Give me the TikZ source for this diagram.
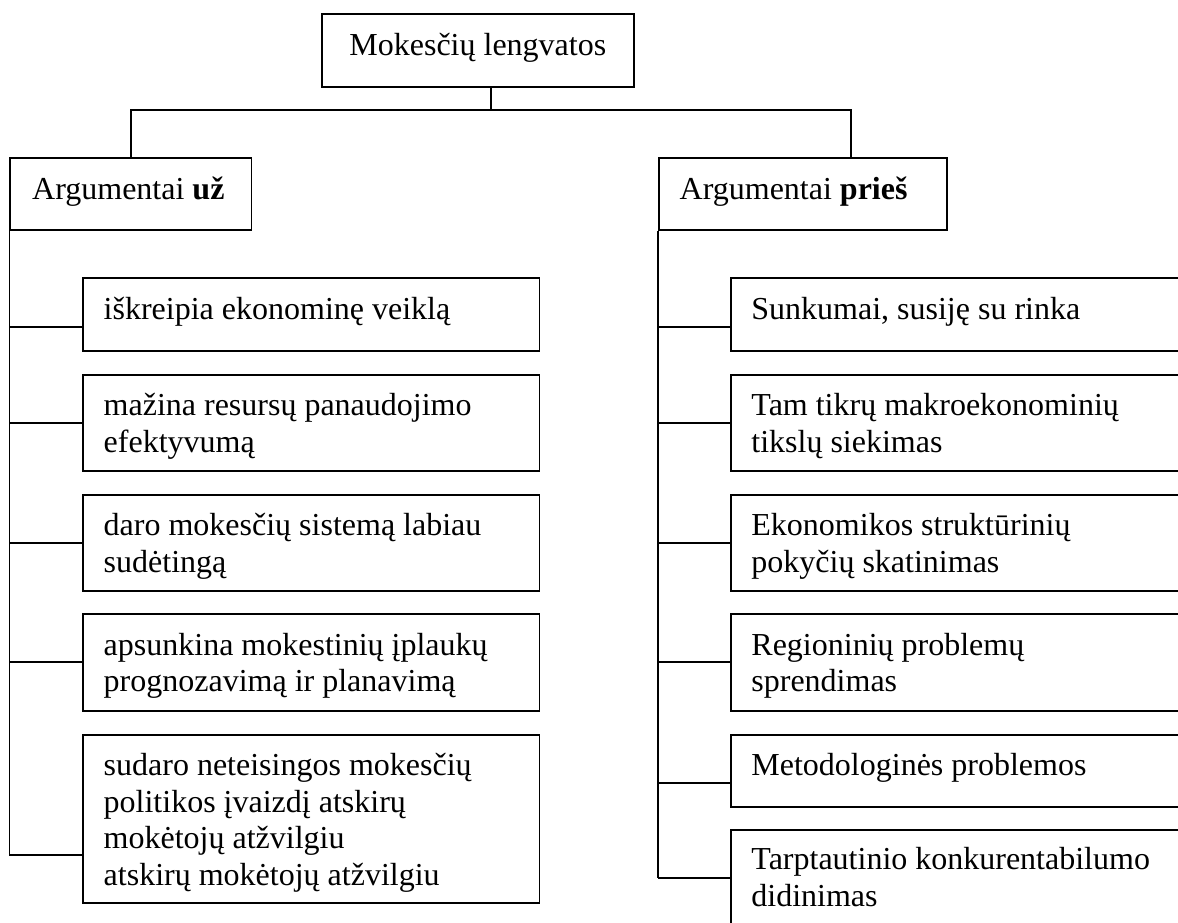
\documentclass[tikz,border=0pt]{standalone}
\usepackage{fontspec}
\setmainfont{Liberation Serif}
\usetikzlibrary{fit}

% several lines, aligned on the baseline of the first one
\newcommand\stacklines[1]{\begin{tabular}[t]{@{}l@{}}#1\end{tabular}}

\begin{document}
\begin{tikzpicture}[x=0.5pt,y=-0.5pt,
  frame/.style={draw=black, line width=0.9pt, inner sep=0pt, rectangle},
  txt/.style={anchor=base west, inner sep=0pt, font=\fontsize{16}{18.35}\selectfont},
  link/.style={draw=black, line width=0.9pt}]
\useasboundingbox (0,0) rectangle (1178,922);
\fill[white] (0,0) rectangle (1178,922);
\clip (0,0) rectangle (1178,922);

% root
\node[frame, fit={(322.2,14) (634,86.7)}] (main) {};
\node[txt] (tmain) at (349,55.7) {Mokesčių lengvatos};

% the two headings
\node[frame, fit={(10.3,158.3) (251.4,230)}] (hL) {};
\node[txt] (thL) at (31.8,199.5) {Argumentai \textbf{už}};
\node[frame, fit={(659,158.3) (947.2,230)}] (hR) {};
\node[txt] (thR) at (679.3,199.5) {Argumentai \textbf{prieš}};

% left column
\node[frame, fit={(82.7,278.3) (539.5,350.7)}] (l1) {};
\node[txt] (tl1) at (103.3,319.3) {iškreipia ekonominę veiklą};
\node[frame, fit={(82.7,375) (539.5,470.7)}] (l2) {};
\node[txt] (tl2) at (103.3,415.5) {\stacklines{mažina resursų panaudojimo\\efektyvumą}};
\node[frame, fit={(82.7,495) (539.5,590.7)}] (l3) {};
\node[txt] (tl3) at (103.3,535.5) {\stacklines{daro mokesčių sistemą labiau\\sudėtingą}};
\node[frame, fit={(82.7,614.3) (539.5,710.7)}] (l4) {};
\node[txt] (tl4) at (103.3,655) {\stacklines{apsunkina mokestinių įplaukų\\prognozavimą ir planavimą}};
\node[frame, fit={(82.7,735) (539.5,902.7)}] (l5) {};
\node[txt] (tl5) at (103.3,775.5) {\stacklines{sudaro neteisingos mokesčių\\politikos įvaizdį atskirų\\mokėtojų atžvilgiu\\atskirų mokėtojų atžvilgiu}};

% right column (boxes run past the page edge)
\node[frame, fit={(730.9,278.3) (1200,350.7)}] (r1) {};
\node[txt] (tr1) at (751,319.3) {Sunkumai, susiję su rinka};
\node[frame, fit={(730.9,375) (1200,470.7)}] (r2) {};
\node[txt] (tr2) at (751,415.5) {\stacklines{Tam tikrų makroekonominių\\tikslų siekimas}};
\node[frame, fit={(730.9,495) (1200,590.7)}] (r3) {};
\node[txt] (tr3) at (751,535.5) {\stacklines{Ekonomikos struktūrinių\\pokyčių skatinimas}};
\node[frame, fit={(730.9,614.3) (1200,710.7)}] (r4) {};
\node[txt] (tr4) at (751,655) {\stacklines{Regioninių problemų\\sprendimas}};
\node[frame, fit={(730.9,735) (1200,806.7)}] (r5) {};
\node[txt] (tr5) at (751,775.5) {Metodologinės problemos};
\node[frame, fit={(730.9,830) (1200,960)}] (r6) {};
\node[txt] (tr6) at (751,869.8) {\stacklines{Tarptautinio konkurentabilumo\\didinimas}};

% junction points
\coordinate (stem) at (491,86.7);
\coordinate (bar) at (491,110);
\coordinate (jL) at (130.9,110);
\coordinate (jR) at (850.7,110);
\coordinate (bl1) at (l1.west |- 0,326.7);
\coordinate (bl2) at (l2.west |- 0,422.7);
\coordinate (bl3) at (l3.west |- 0,542.7);
\coordinate (bl4) at (l4.west |- 0,662.3);
\coordinate (bl5) at (l5.west |- 0,855);
\coordinate (br1) at (r1.west |- 0,326.7);
\coordinate (br2) at (r2.west |- 0,422.7);
\coordinate (br3) at (r3.west |- 0,542.7);
\coordinate (br4) at (r4.west |- 0,662.3);
\coordinate (br5) at (r5.west |- 0,782.7);
\coordinate (br6) at (r6.west |- 0,878.3);

% root to headings
\draw[link] (stem) -- (bar);
\draw[link] (hL.north -| jL) -- (jL) -- (jR) -- (hR.north -| jR);

% spines and branches
\draw[link] (hL.south west) -- (hL.south west |- bl5);
\foreach \i in {1,...,5} \draw[link] (hL.south west |- bl\i) -- (bl\i);
\draw[link] (hR.south west) -- (hR.south west |- br6);
\foreach \i in {1,...,6} \draw[link] (hR.south west |- br\i) -- (br\i);
\end{tikzpicture}
\end{document}
